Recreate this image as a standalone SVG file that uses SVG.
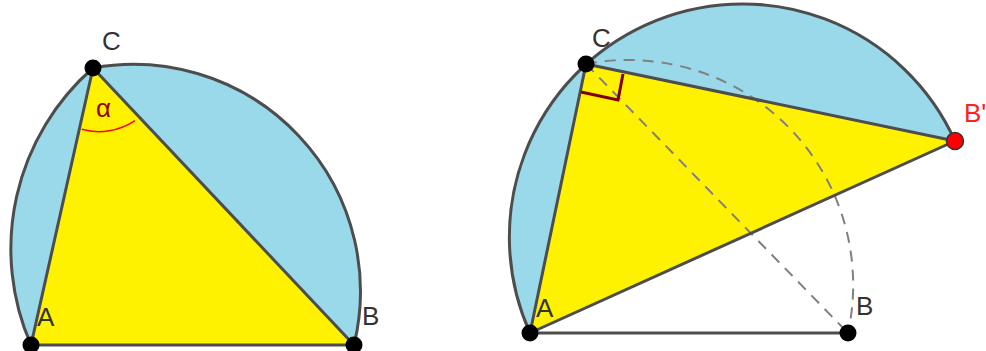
<svg xmlns="http://www.w3.org/2000/svg" width="986" height="351" viewBox="0 0 986 351">
<style>
.seg{fill:#99d9ea;stroke:none}
.tri{fill:#fff200;stroke:none}
.ln{fill:none;stroke:#4d4d4d;stroke-width:3;stroke-linecap:round;stroke-linejoin:round}
.dash{fill:none;stroke:#808080;stroke-width:2;stroke-dasharray:11 8}
.pt{fill:#000}
.lbl{font-family:"Liberation Sans",Arial,sans-serif;font-size:26px;fill:#333}
</style>
<rect width="986" height="351" fill="#fff"/>
<g id="left-figure">
  <path class="seg" d="M31,345 A240,240 0 0 1 93,68 A227,227 0 0 1 354,345 Z"/>
  <path class="tri" d="M31,345 L93,68 L354,345 Z"/>
</g>
<g id="right-figure">
  <path class="seg" d="M530,333 A233,233 0 0 1 955,141 Z"/>
  <path class="tri" d="M530,333 L586,64 L955,141 Z"/>
</g>
<g id="connectors">
  <path class="ln" d="M31,345 A240,240 0 0 1 93,68"/>
  <path class="ln" d="M93,68 A227,227 0 0 1 354,345"/>
  <path class="ln" d="M31,345 L93,68 L354,345 Z"/>
  <path d="M81.7,129.3 A65,65 0 0 0 135,120.7" fill="none" stroke="#ff0000" stroke-width="1.5"/>
  <path class="dash" d="M586,64 L848,333"/>
  <path class="dash" d="M586,64 A225,225 0 0 1 848,333"/>
  <path class="ln" d="M530,333 A233,233 0 0 1 955,141"/>
  <path class="ln" d="M530,333 L586,64 L955,141 Z"/>
  <path class="ln" d="M530,333 L848,333"/>
  <path d="M581,92 L618,100 L623,74" fill="none" stroke="#800000" stroke-width="3"/>
</g>
<g id="alpha"><text x="96" y="117" class="lbl" fill="#990000" style="fill:#990000">α</text></g>
<g id="node-A1"><circle class="pt" cx="31" cy="345" r="8.5"/><text class="lbl" x="37" y="326">A</text></g>
<g id="node-B1"><circle class="pt" cx="354" cy="345" r="8.5"/><text class="lbl" x="362" y="325">B</text></g>
<g id="node-C1"><circle class="pt" cx="93" cy="68" r="8.5"/><text class="lbl" x="102" y="50">C</text></g>
<g id="node-A2"><circle class="pt" cx="530" cy="333" r="8.5"/><text class="lbl" x="536" y="317">A</text></g>
<g id="node-B2"><circle class="pt" cx="848" cy="333" r="8.5"/><text class="lbl" x="856" y="315">B</text></g>
<g id="node-C2"><circle class="pt" cx="586" cy="64" r="8.5"/><text class="lbl" x="592" y="47">C</text></g>
<g id="node-B3"><circle cx="955" cy="141" r="8.5" fill="#ff0000" stroke="#333" stroke-width="1.5"/><text class="lbl" x="964" y="122" style="fill:#ff2020">B'</text></g>
</svg>
